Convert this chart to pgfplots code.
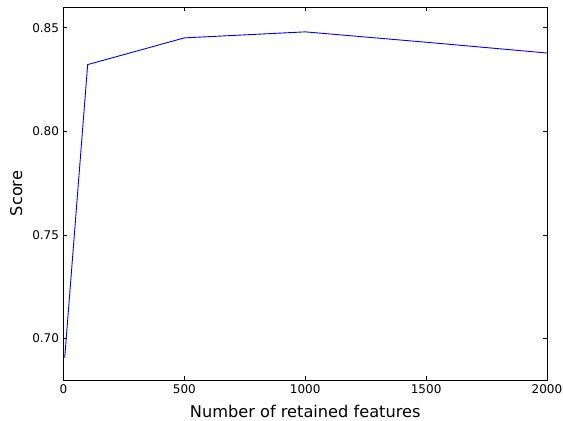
\documentclass[border=0pt]{standalone}
\usepackage{pgfplots}
\pgfplotsset{compat=1.18}
\usepackage{fontspec}
\setmainfont{DejaVu Sans}
\begin{document}
\begin{tikzpicture}
\path[use as bounding box] (-63.5bp,-41bp) rectangle (499.5bp,380bp);
\begin{axis}[
  at={(0,0)}, anchor=south west,
  scale only axis,
  width=483.5bp, height=373bp,
  xmin=0, xmax=2000, ymin=0.68, ymax=0.86,
  xtick={0,500,1000,1500,2000},
  ytick={0.70,0.75,0.80,0.85},
  yticklabel style={/pgf/number format/fixed, /pgf/number format/fixed zerofill, /pgf/number format/precision=2},
  /pgf/number format/assume math mode=true,
  /pgf/number format/1000 sep={},
  tick align=inside,
  major tick length=4bp,
  tick style={black, line width=0.6pt},
  axis line style={black, line width=0.8pt},
  ticklabel style={font=\fontsize{12bp}{14bp}\selectfont},
  xticklabel style={yshift=-1bp},
  yticklabel style={xshift=-1bp},
  xlabel={Number of retained features},
  ylabel={Score},
  label style={font=\fontsize{16.2bp}{19bp}\selectfont},
  xlabel style={yshift=-5bp},
  ylabel style={yshift=3bp},
]
\addplot[color={rgb,1:red,0;green,0;blue,1}, line width=0.9pt, mark=none] coordinates {
  (5,0.6907) (100,0.8322) (500,0.8451) (1000,0.8480) (1500,0.8430) (2000,0.8378)
};
\end{axis}
\end{tikzpicture}
\end{document}
